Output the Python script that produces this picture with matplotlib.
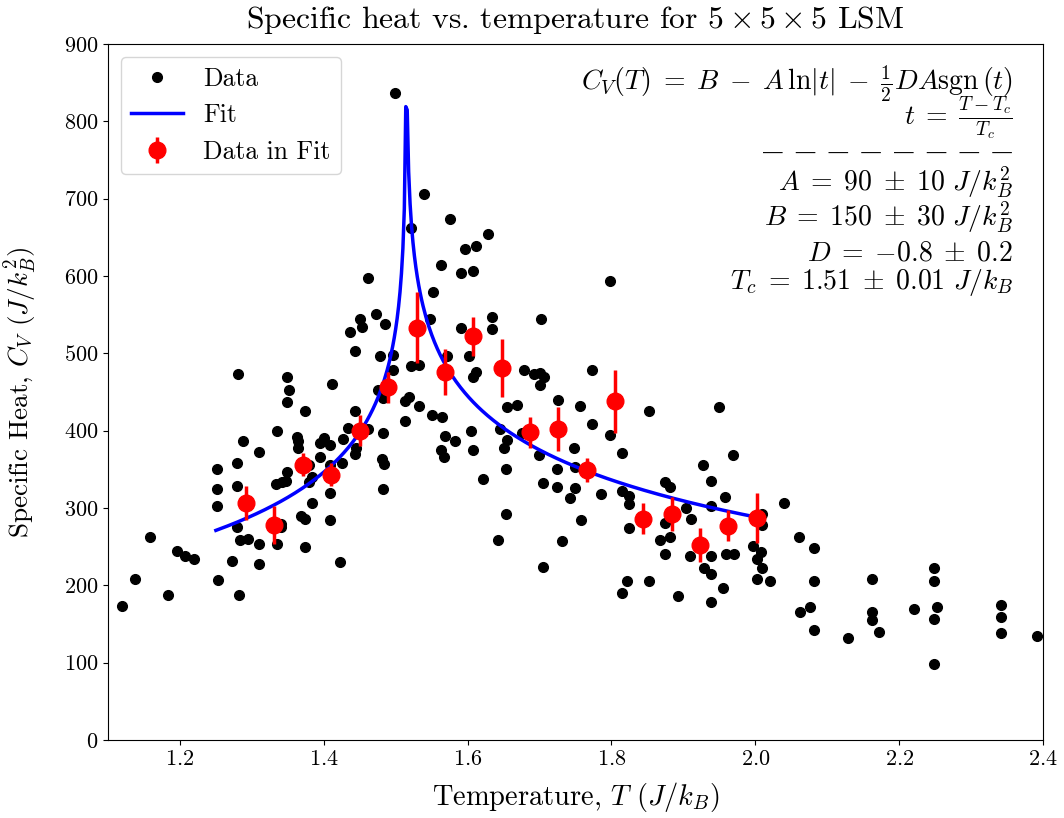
import numpy as np
import matplotlib
matplotlib.use("Agg")
from matplotlib import pyplot as plt

plt.rcParams['font.family'] = 'serif'
plt.rcParams['font.serif'] = ['cmr10']
plt.rcParams['mathtext.fontset'] = 'cm'
plt.rcParams['axes.unicode_minus'] = False
plt.rcParams['axes.formatter.use_mathtext'] = True
plt.rcParams['font.size'] = 16

# raw samples (temperature, specific heat)
temp_data = [
    1.436, 1.281, 1.349, 1.352, 1.349, 1.411, 1.374, 1.335, 1.288, 1.363,
    1.364, 1.364, 1.401, 1.395, 1.408, 1.427, 1.434, 1.310, 1.395, 1.252,
    1.280, 1.380, 1.408, 1.426, 1.349, 1.333, 1.342, 1.347, 1.384, 1.380,
    1.280, 1.252, 1.408, 1.383, 1.252, 1.368, 1.374, 1.408, 1.341, 1.341,
    1.280, 1.284, 1.295, 1.310, 1.335, 1.374, 1.159, 1.196, 1.207, 1.219,
    1.272, 1.310, 1.423, 1.137, 1.253, 1.183, 1.282, 1.120,
    1.563, 1.461, 1.591, 1.608, 1.552, 1.473, 1.450, 1.453, 1.485, 1.444,
    1.478, 1.496, 1.496, 1.548, 1.634, 1.634, 1.591, 1.702, 1.602, 1.521,
    1.533, 1.571, 1.612, 1.608, 1.678, 1.692, 1.701, 1.706, 1.700, 1.476,
    1.482, 1.519, 1.513, 1.533, 1.444, 1.513, 1.551, 1.565, 1.462, 1.482,
    1.655, 1.669, 1.726, 1.756, 1.568, 1.582, 1.605, 1.608, 1.563, 1.567,
    1.645, 1.655, 1.650, 1.676, 1.445, 1.444, 1.481, 1.484, 1.482, 1.654,
    1.622, 1.748, 1.699, 1.724, 1.705, 1.724, 1.749, 1.743, 1.654, 1.749,
    1.499, 1.539, 1.576, 1.521, 1.597, 1.612, 1.629,
    1.642, 1.731, 1.705,
    1.798, 1.773, 1.852, 1.949, 1.773, 1.798, 1.814, 1.969, 1.927, 1.939,
    1.786, 1.758, 1.815, 1.825, 1.825, 1.874, 1.881, 1.903, 1.910, 1.939,
    1.958, 2.040, 2.009, 2.009, 1.875, 1.824, 1.868, 1.881, 1.997, 2.061,
    1.875, 1.909, 1.939, 1.959, 1.970, 2.008, 2.002, 1.929, 1.939, 2.009,
    1.821, 1.852, 1.815, 1.893, 1.955, 1.939, 2.002, 2.021, 2.062, 2.076,
    2.082, 2.082, 2.082, 2.129, 2.162, 2.162, 2.162, 2.172, 2.221, 2.248,
    2.248, 2.252, 2.248, 2.248, 2.341, 2.341, 2.341, 2.392,
]
cv_data = [
    528, 473, 469, 452, 437, 460, 426, 400, 387, 392,
    386, 378, 391, 384, 381, 389, 403, 372, 366, 350,
    358, 356, 355, 358, 347, 331, 333, 335, 340, 334,
    329, 324, 320, 306, 303, 290, 286, 284, 279, 276,
    275, 258, 260, 254, 253, 250, 263, 244, 238, 234,
    231, 228, 230, 208, 207, 188, 187, 173,
    614, 597, 604, 607, 579, 551, 544, 534, 538, 503,
    496, 498, 478, 544, 547, 532, 533, 544, 496, 483,
    485, 496, 476, 470, 479, 473, 475, 469, 459, 453,
    442, 444, 438, 432, 425, 413, 420, 418, 402, 397,
    430, 433, 440, 432, 393, 386, 399, 375, 375, 366,
    402, 388, 378, 397, 377, 370, 363, 357, 325, 351,
    338, 377, 369, 350, 332, 327, 326, 313, 292, 353,
    836, 706, 674, 662, 635, 639, 654,
    258, 257, 224,
    594, 478, 425, 431, 408, 394, 371, 369, 355, 335,
    318, 284, 322, 315, 305, 333, 327, 300, 286, 302,
    314, 307, 292, 278, 280, 274, 259, 262, 251, 262,
    240, 238, 238, 241, 240, 243, 234, 223, 214, 222,
    205, 205, 190, 186, 197, 178, 208, 206, 166, 172,
    206, 142, 248, 132, 208, 165, 155, 139, 169, 222,
    206, 172, 157, 98, 174, 159, 138, 134,
]

# binned points used in the fit
temp_fit_pts = [1.292, 1.331, 1.371, 1.410, 1.450, 1.489, 1.530, 1.569, 1.607, 1.648,
                1.687, 1.726, 1.766, 1.805, 1.844, 1.884, 1.923, 1.962, 2.002]
cv_fit_pts = [306, 278, 356, 343, 400, 456, 533, 476, 522, 481,
              398, 402, 349, 438, 286, 292, 252, 277, 287]
cv_fit_err = [22, 25, 15, 15, 20, 20, 46, 30, 25, 37,
              20, 28, 15, 41, 20, 22, 22, 20, 32]

# fit parameters
A = 90
B = 150
D = -0.8
Tc = 1.5146
fit_lo, fit_hi = 1.25, 2.0


def cv_model(T):
    t = (T - Tc) / Tc
    return B - A * np.log(np.abs(t)) - 0.5 * D * A * np.sign(t)


T_fit = np.linspace(fit_lo, fit_hi, 376)

fig = plt.figure(figsize=(10.64, 8.18), dpi=100)
ax = fig.add_axes([0.1015, 0.0954, 0.8788, 0.8508])

ax.plot(temp_data, cv_data, 'o', color='black', ms=7, label='Data')
ax.plot(T_fit, cv_model(T_fit), '-', color='blue', lw=2.5, label='Fit')
ax.errorbar(temp_fit_pts, cv_fit_pts, yerr=cv_fit_err, fmt='o', color='red',
            ms=12, elinewidth=2.5, label='Data in Fit')

ax.set_xlim(1.1, 2.4)
ax.set_ylim(0, 900)
ax.tick_params(labelsize=16)
ax.set_title(r'Specific heat vs. temperature for $5\times5\times5$ LSM', fontsize=22.8,
             y=1.0223, pad=0)
ax.set_xlabel(r'Temperature, $T$ $(J/k_B)$', fontsize=20.5, labelpad=8)
ax.set_ylabel(r'Specific Heat, $C_V$ $(J/k_B^2)$', fontsize=19.5, labelpad=18)
ax.legend(loc='upper left', fontsize=18.5)

# fit summary
model_text = '\n'.join([
    r'$C_V(T) \;=\; B \;-\; A\,\ln|t| \;-\; \frac{1}{2}DA\mathrm{sgn}\,(t)$',
    r'$t \;=\; \frac{T-T_c}{T_c}$',
])
ax.text(0.968, 0.972, model_text, transform=ax.transAxes, ha='right', va='top',
        multialignment='right', linespacing=0.68, fontsize=20)
ax.text(0.968, 0.843, '\u00a0\u2009'.join(['\u2014'] * 8), transform=ax.transAxes,
        ha='right', va='center', fontsize=15.5, family='DejaVu Serif')

param_lines = [
    (0.789, r'$A \;=\; 90 \;\pm\; 10\ J/k_B^2$'),
    (0.739, r'$B \;=\; 150 \;\pm\; 30\ J/k_B^2$'),
    (0.689, r'$D \;=\; {-0.8} \;\pm\; 0.2$'),
    (0.648, r'$T_c \;=\; 1.51 \;\pm\; 0.01\ J/k_B$'),
]
for y, s in param_lines:
    ax.text(0.968, y, s, transform=ax.transAxes, ha='right', va='baseline', fontsize=20)

fig.savefig('out.png', dpi=100)
